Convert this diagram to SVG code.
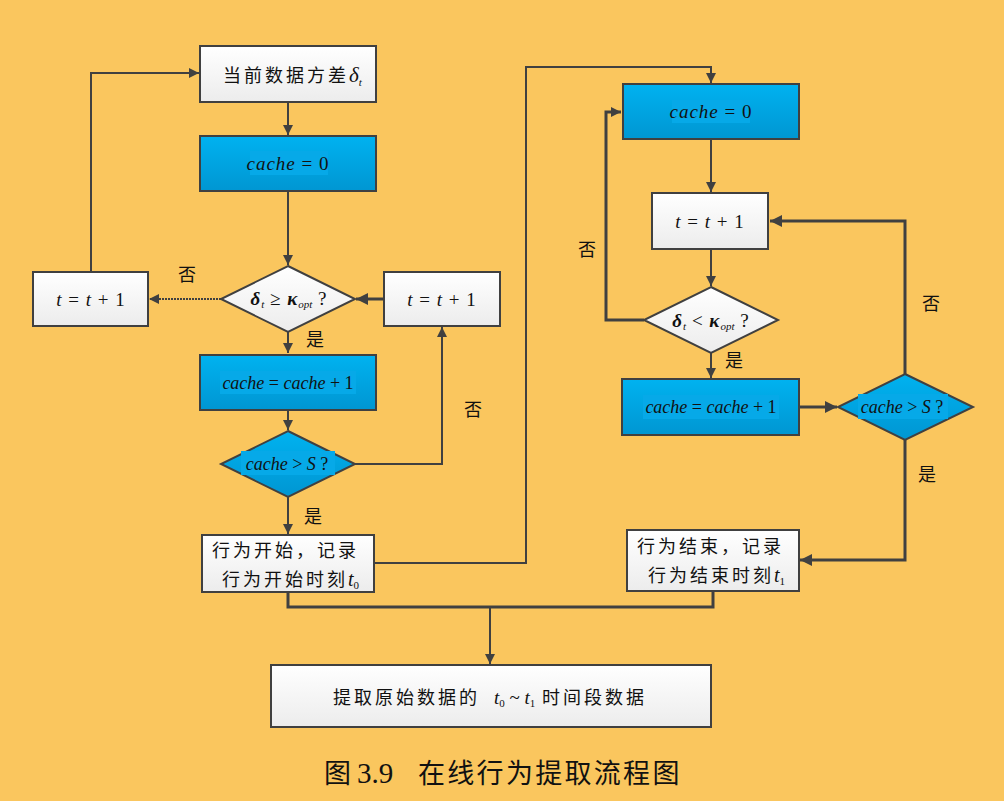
<svg xmlns="http://www.w3.org/2000/svg" width="1004" height="801" viewBox="0 0 1004 801">
  <defs>
    <linearGradient id="gWhite" x1="0" y1="0" x2="0" y2="1">
      <stop offset="0" stop-color="#FFFFFF"/>
      <stop offset="1" stop-color="#ECECEC"/>
    </linearGradient>
    <linearGradient id="gBlue" x1="0" y1="0" x2="0" y2="1">
      <stop offset="0" stop-color="#00B2F0"/>
      <stop offset="1" stop-color="#0096D2"/>
    </linearGradient>
    <marker id="arr" viewBox="0 0 10 10" refX="10" refY="5" markerWidth="10" markerHeight="10" markerUnits="userSpaceOnUse" orient="auto">
      <path d="M0,0 L10,5 L0,10 Z" fill="#404040"/>
    </marker>
    <marker id="arrB" viewBox="0 0 10 10" refX="10" refY="5" markerWidth="12" markerHeight="12" markerUnits="userSpaceOnUse" orient="auto">
      <path d="M0,0 L10,5 L0,10 Z" fill="#404040"/>
    </marker>
  </defs>
  <style>
    .box { stroke: #404040; stroke-width: 2; }
    .w { fill: url(#gWhite); }
    .b { fill: url(#gBlue); }
    .hl { fill: #06A9E8; }
    .ln { fill: none; stroke: #404040; stroke-width: 2; }
    .thick { stroke-width: 3; }
    .cn { font-family: "Noto Sans CJK SC", "Liberation Serif", sans-serif; font-size: 18px; fill: #111; }
    .m { font-family: "Liberation Serif", serif; font-style: italic; font-size: 19px; letter-spacing: 1px; fill: #111; }
    .mc { font-size: 18px; letter-spacing: 0; }
    .mi { font-family: "Liberation Serif", serif; font-style: italic; letter-spacing: 0; }
    .up { font-style: normal; }
    .sub { font-size: 11px; letter-spacing: 0; }
  </style>

  <rect x="0" y="0" width="1004" height="801" fill="#FAC65E"/>

  <!-- connectors -->
  <g id="connectors">
    <path class="ln" d="M288,103 V135" marker-end="url(#arr)"/>
    <path class="ln" d="M288,192 V265" marker-end="url(#arr)"/>
    <path class="ln" d="M221,299 H149" stroke-dasharray="2 1" marker-end="url(#arr)"/>
    <path class="ln" d="M91,272 V73 H199" marker-end="url(#arr)"/>
    <path class="ln thick" d="M384,299 H356" marker-end="url(#arrB)"/>
    <path class="ln" d="M288,332 V353" marker-end="url(#arr)"/>
    <path class="ln" d="M288,411 V430" marker-end="url(#arr)"/>
    <path class="ln" d="M288,497 V534" marker-end="url(#arr)"/>
    <path class="ln" d="M355,464 H442 V327" marker-end="url(#arr)"/>
    <path class="ln" d="M374,563 H526 V67 H711 V83" marker-end="url(#arr)"/>
    <path class="ln" d="M711,140 V192" marker-end="url(#arr)"/>
    <path class="ln" d="M711,249 V286" marker-end="url(#arr)"/>
    <path class="ln thick" d="M644,320 H606 V112 H621" marker-end="url(#arr)"/>
    <path class="ln" d="M711,353 V378" marker-end="url(#arr)"/>
    <path class="ln thick" d="M799,407 H837" marker-end="url(#arrB)"/>
    <path class="ln thick" d="M905,374 V221 H770" marker-end="url(#arrB)"/>
    <path class="ln thick" d="M905,440 V560 H800" marker-end="url(#arrB)"/>
    <path class="ln thick" d="M288,592 V607 H713 V592"/>
    <path class="ln" d="M490,607 V664" marker-end="url(#arr)"/>
  </g>

  <!-- left column -->
  <g id="n-variance">
    <rect class="box w" x="200" y="46" width="176" height="56"/>
    <text class="cn" x="223" y="82" letter-spacing="3">当前数据方差<tspan class="mi" font-size="21">δ</tspan><tspan class="mi" font-size="11" dy="4">t</tspan></text>
  </g>
  <g id="n-cache0-a">
    <rect class="box b" x="200" y="136" width="176" height="55"/>
    <rect class="hl" x="250" y="151" width="78" height="24"/>
    <text class="m" x="288" y="170" text-anchor="middle">cache <tspan class="up">= 0</tspan></text>
  </g>
  <g id="n-cond1">
    <polygon class="box w" points="288,266 355,299 288,332 221,299" stroke-width="1.5"/>
    <text class="m" x="289" y="305" text-anchor="middle" letter-spacing="0"><tspan font-weight="bold">δ</tspan><tspan class="sub" dy="3">t</tspan><tspan class="up" dy="-3"> ≥ </tspan><tspan font-weight="bold">κ</tspan><tspan class="sub" dy="3">opt</tspan><tspan class="up" dy="-3"> ?</tspan></text>
  </g>
  <g id="n-inc-left">
    <rect class="box w" x="33" y="272" width="115" height="54"/>
    <text class="m" x="91" y="306" text-anchor="middle">t <tspan class="up">=</tspan> t <tspan class="up">+ 1</tspan></text>
  </g>
  <g id="n-inc-mid">
    <rect class="box w" x="384" y="272" width="116" height="54"/>
    <text class="m" x="442" y="306" text-anchor="middle">t <tspan class="up">=</tspan> t <tspan class="up">+ 1</tspan></text>
  </g>
  <g id="n-cacheinc-a">
    <rect class="box b" x="200" y="355" width="176" height="55"/>
    <rect class="hl" x="220" y="371" width="136" height="23"/>
    <text class="m mc" x="288" y="389" text-anchor="middle">cache <tspan class="up">=</tspan> cache <tspan class="up">+ 1</tspan></text>
  </g>
  <g id="n-cond2">
    <polygon class="box b" points="288,431 355,464 288,497 221,464" stroke-width="1.5"/>
    <rect class="hl" x="241" y="451" width="94" height="24"/>
    <text class="m mc" x="287" y="470" text-anchor="middle">cache <tspan class="up">&gt;</tspan> S <tspan class="up">?</tspan></text>
  </g>
  <g id="n-start">
    <rect class="box w" x="202" y="535" width="172" height="57"/>
    <text class="cn" x="212" y="557" letter-spacing="3">行为开始，记录</text>
    <text class="cn" x="222" y="586" letter-spacing="3">行为开始时刻<tspan class="mi" font-size="20">t</tspan><tspan class="sub up" font-family="Liberation Serif, serif" dy="3">0</tspan></text>
  </g>

  <!-- right column -->
  <g id="n-cache0-b">
    <rect class="box b" x="623" y="84" width="176" height="55"/>
    <rect class="hl" x="672" y="100" width="78" height="23"/>
    <text class="m" x="711" y="118" text-anchor="middle">cache <tspan class="up">= 0</tspan></text>
  </g>
  <g id="n-inc-right">
    <rect class="box w" x="652" y="193" width="116" height="56"/>
    <text class="m" x="710" y="228" text-anchor="middle">t <tspan class="up">=</tspan> t <tspan class="up">+ 1</tspan></text>
  </g>
  <g id="n-cond3">
    <polygon class="box w" points="711,287 778,320 711,353 644,320" stroke-width="1.5"/>
    <text class="m" x="711" y="327" text-anchor="middle" letter-spacing="0"><tspan font-weight="bold">δ</tspan><tspan class="sub" dy="3">t</tspan><tspan class="up" dy="-3"> &lt; </tspan><tspan font-weight="bold">κ</tspan><tspan class="sub" dy="3">opt</tspan><tspan class="up" dy="-3"> ?</tspan></text>
  </g>
  <g id="n-cacheinc-b">
    <rect class="box b" x="622" y="379" width="177" height="56"/>
    <rect class="hl" x="643" y="395" width="136" height="24"/>
    <text class="m mc" x="711" y="413" text-anchor="middle">cache <tspan class="up">=</tspan> cache <tspan class="up">+ 1</tspan></text>
  </g>
  <g id="n-cond4">
    <polygon class="box b" points="905,374 973,407 905,440 838,407" stroke-width="1.5"/>
    <rect class="hl" x="858" y="394" width="90" height="25"/>
    <text class="m mc" x="902" y="413" text-anchor="middle">cache <tspan class="up">&gt;</tspan> S <tspan class="up">?</tspan></text>
  </g>
  <g id="n-end">
    <rect class="box w" x="627" y="530" width="172" height="61"/>
    <text class="cn" x="637" y="553" letter-spacing="3">行为结束，记录</text>
    <text class="cn" x="648" y="582" letter-spacing="3">行为结束时刻<tspan class="mi" font-size="20">t</tspan><tspan class="sub up" font-family="Liberation Serif, serif" dy="3">1</tspan></text>
  </g>

  <!-- final step -->
  <g id="n-extract">
    <rect class="box w" x="271" y="665" width="440" height="62"/>
    <text class="cn" x="333" y="704" letter-spacing="3">提取原始数据的</text>
    <text x="494" y="704" font-family="Liberation Serif, serif" font-size="19" fill="#111"><tspan font-style="italic">t</tspan><tspan font-size="11" dy="3">0</tspan><tspan dy="-3"> ~ </tspan><tspan font-style="italic">t</tspan><tspan font-size="11" dy="3">1</tspan></text>
    <text class="cn" x="542" y="704" letter-spacing="3">时间段数据</text>
  </g>

  <!-- branch labels -->
  <g id="labels" class="cn">
    <text x="187" y="281" text-anchor="middle">否</text>
    <text x="315" y="346" text-anchor="middle">是</text>
    <text x="473" y="416" text-anchor="middle">否</text>
    <text x="313" y="523" text-anchor="middle">是</text>
    <text x="587" y="256" text-anchor="middle">否</text>
    <text x="734" y="367" text-anchor="middle">是</text>
    <text x="931" y="310" text-anchor="middle">否</text>
    <text x="927" y="481" text-anchor="middle">是</text>
  </g>

  <!-- caption -->
  <g id="caption" fill="#111" font-size="27">
    <text x="324" y="783" font-family="Noto Sans CJK SC, sans-serif">图</text>
    <text x="357" y="783" font-family="Liberation Serif, serif" font-size="29">3.9</text>
    <text x="418" y="783" font-family="Noto Sans CJK SC, sans-serif" letter-spacing="2.3">在线行为提取流程图</text>
  </g>
</svg>
